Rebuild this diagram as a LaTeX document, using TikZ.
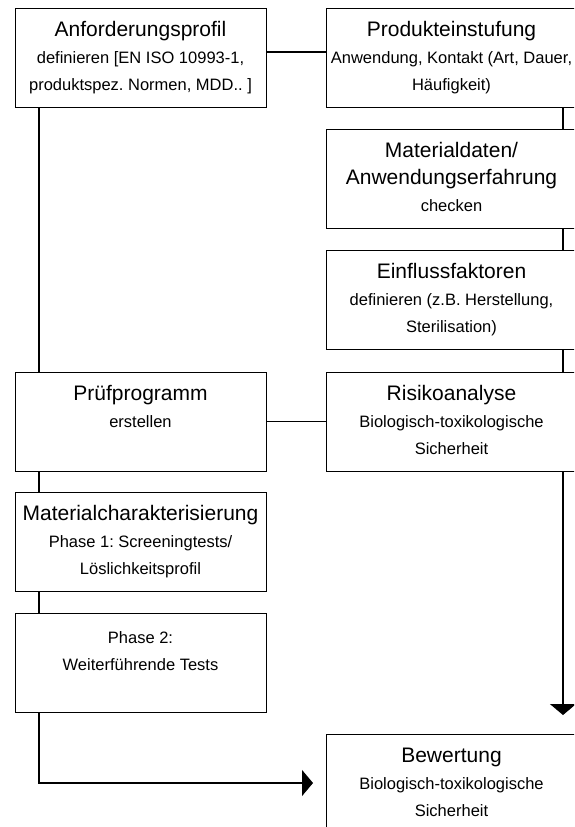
\documentclass[tikz,border=0pt]{standalone}
\usepackage{fontspec}
\setmainfont{Liberation Sans}
\usetikzlibrary{arrows.meta}
\frenchspacing
\newcommand\ttl[1]{{\fontsize{21}{27}\selectfont #1}}
\newcommand\bx[2][28pt]{\parbox[c][99pt][t]{251pt}{\centering\fontsize{16.5}{27}\selectfont\rule{0pt}{#1}#2\par}}
\tikzset{
  box/.style={draw=black, line width=1pt, inner sep=0pt, outer sep=0pt, anchor=north west, fill=white},
  conn/.style={draw=black, line width=1.1pt},
  tip/.style={-{Triangle[length=11pt,width=26pt]}}
}
\begin{document}
\begin{tikzpicture}[x=1pt,y=-1pt]
\useasboundingbox (0,0) rectangle (574,827);
\clip (0,0) rectangle (574,827);
\fill[white] (0,0) rectangle (574,827);
% left column
\node[box] (anf) at (15,8) {\bx{\ttl{Anforderungsprofil}\\definieren [EN ISO 10993-1,\\produktspez. Normen, MDD.. ]}};
\node[box] (pruef) at (15,372) {\bx{\ttl{Prüfprogramm}\\erstellen}};
\node[box] (matchar) at (15,492) {\bx{\ttl{Materialcharakterisierung}\\Phase 1: Screeningtests/\\Löslichkeitsprofil}};
\node[box] (phase2) at (15,613) {\bx[30pt]{Phase 2:\\Weiterführende Tests}};
% right column
\node[box] (prod) at (326,8) {\bx{\ttl{Produkteinstufung}\\Anwendung, Kontakt (Art, Dauer,\\Häufigkeit)}};
\node[box] (mat) at (326,129) {\bx{\ttl{Materialdaten/}\\\ttl{Anwendungserfahrung}\\checken}};
\node[box] (einfl) at (326,250) {\bx{\ttl{Einflussfaktoren}\\definieren (z.B. Herstellung,\\Sterilisation)}};
\node[box] (risk) at (326,372) {\bx{\ttl{Risikoanalyse}\\Biologisch-toxikologische\\Sicherheit}};
\node[box] (bew) at (326,734) {\bx{\ttl{Bewertung}\\Biologisch-toxikologische\\Sicherheit}};
% free ends
\coordinate (downtip) at (563,715);
\coordinate (righttip) at (313,783);
% connectors
\draw[conn] ([yshift=5.5pt]anf.east) -- ([yshift=5.5pt]prod.west);
\draw[conn] (pruef.east) -- (risk.west);
\draw[conn] ([xshift=24pt]anf.south west) -- ([xshift=24pt]pruef.north west);
\draw[conn] ([xshift=24pt]pruef.south west) -- ([xshift=24pt]matchar.north west);
\draw[conn] ([xshift=24pt]matchar.south west) -- ([xshift=24pt]phase2.north west);
\draw[conn,tip] ([xshift=24pt]phase2.south west) |- (righttip);
\draw[conn] ([xshift=-14pt]prod.south east) -- ([xshift=-14pt]mat.north east);
\draw[conn] ([xshift=-14pt]mat.south east) -- ([xshift=-14pt]einfl.north east);
\draw[conn] ([xshift=-14pt]einfl.south east) -- ([xshift=-14pt]risk.north east);
\draw[conn,tip] ([xshift=-14pt]risk.south east) -- (downtip);
\end{tikzpicture}
\end{document}
